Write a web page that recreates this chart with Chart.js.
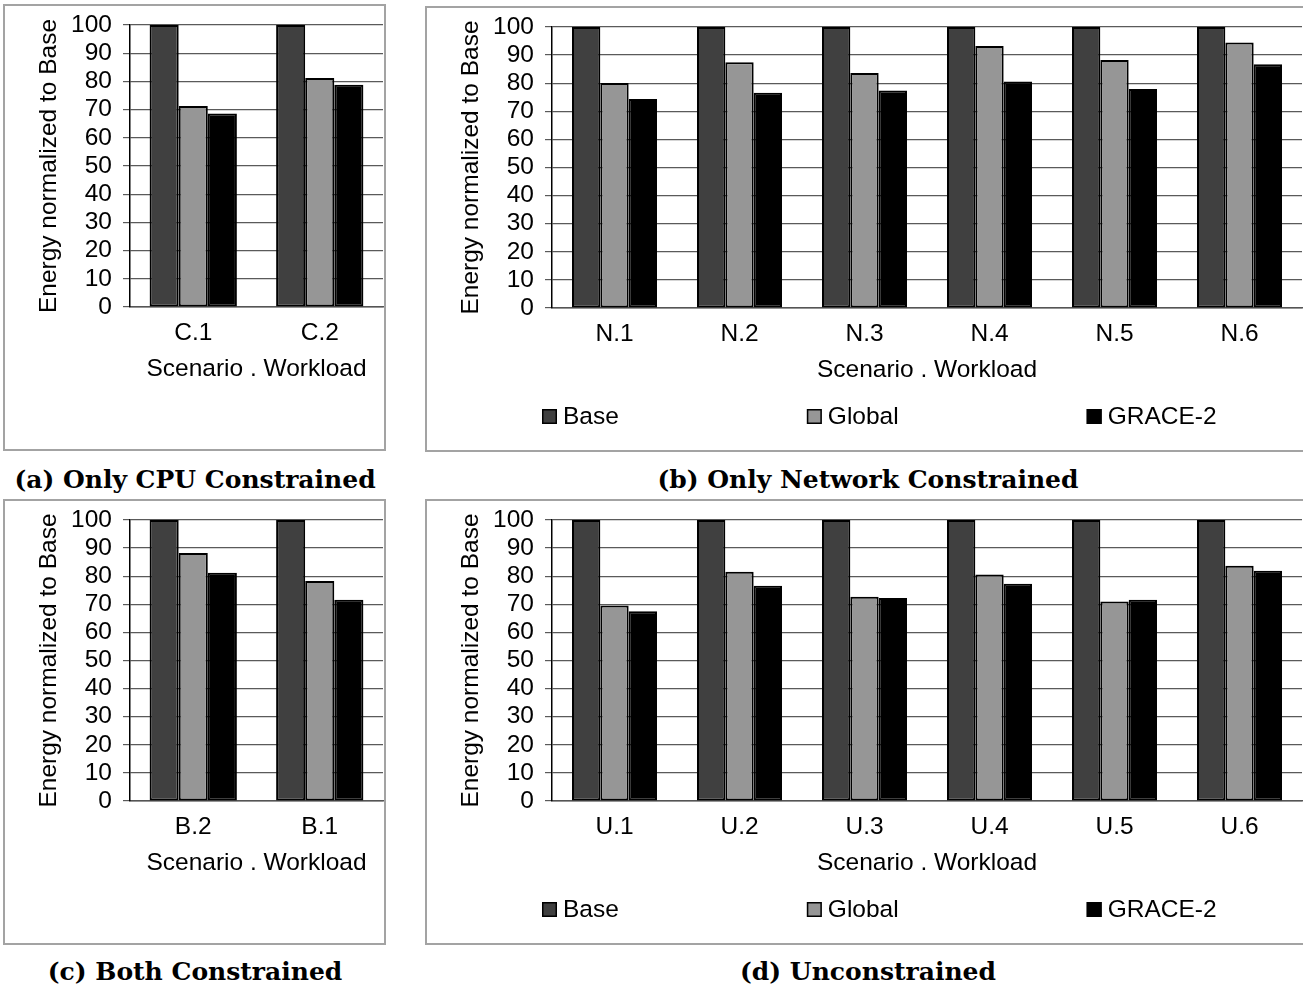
<!DOCTYPE html>
<html>
<head>
<meta charset="utf-8">
<script src="https://cdn.jsdelivr.net/npm/chart.js@4.4.1/dist/chart.umd.min.js"></script>
<style>
  body { margin: 0; background: #fff; width: 1303px; height: 988px; overflow: hidden; position: relative; }
  .box { position: absolute; border: 2px solid #a3a3a3; box-sizing: border-box; }
  .box canvas { position: absolute; left: 0; top: 0; }
  .cap { position: absolute; font: bold 25px "DejaVu Serif", serif; color: #000; text-align: center; white-space: nowrap; }
</style>
</head>
<body>
<div class="box" style="left:3px;top:4px;width:383px;height:447px"><canvas id="chartA" width="379" height="443"></canvas></div>
<div class="box" style="left:425px;top:6px;width:880px;height:446px"><canvas id="chartB" width="876" height="442"></canvas></div>
<div class="box" style="left:3px;top:499px;width:383px;height:446px"><canvas id="chartC" width="379" height="442"></canvas></div>
<div class="box" style="left:425px;top:499px;width:880px;height:446px"><canvas id="chartD" width="876" height="442"></canvas></div>

<div class="cap" style="left:0;width:390px;top:465px">(a) Only CPU Constrained</div>
<div class="cap" style="left:420px;width:896px;top:465px">(b) Only Network Constrained</div>
<div class="cap" style="left:0;width:390px;top:957px">(c) Both Constrained</div>
<div class="cap" style="left:420px;width:896px;top:957px">(d) Unconstrained</div>

<script>
const seriesNames = ["Base", "Global", "GRACE-2"];
const seriesColors = ["#404040", "#969696", "#000000"];

const yMin = 0;
const yMax = 100;
const yStep = 10;

// (a) only CPU constrained
const cpuLabels = ["C.1", "C.2"];
const cpuBase = [100, 100];
const cpuGlobal = [71.3, 81.2];
const cpuGrace = [68.6, 78.8];

// (b) only network constrained
const netLabels = ["N.1", "N.2", "N.3", "N.4", "N.5", "N.6"];
const netBase = [100, 100, 100, 100, 100, 100];
const netGlobal = [80.1, 87.5, 83.6, 93.2, 88.3, 94.5];
const netGrace = [74.4, 76.6, 77.4, 80.6, 77.9, 86.7];

// (c) both constrained
const bothLabels = ["B.2", "B.1"];
const bothBase = [100, 100];
const bothGlobal = [88.3, 78.3];
const bothGrace = [81.2, 71.6];

// (d) unconstrained
const unconLabels = ["U.1", "U.2", "U.3", "U.4", "U.5", "U.6"];
const unconBase = [100, 100, 100, 100, 100, 100];
const unconGlobal = [69.6, 81.6, 72.7, 80.6, 71.0, 83.7];
const unconGrace = [67.5, 76.6, 72.2, 77.3, 71.6, 81.9];

const FONT = { family: "'Liberation Sans', Arial, sans-serif", size: 24.5 };

// legend spread in one row under the axis title, like the spreadsheet one
const rowLegend = {
  id: "rowLegend",
  afterDraw(chart, args, opts) {
    if (!opts.show) return;
    const ctx = chart.ctx;
    const area = chart.chartArea;
    const y = area.bottom + 108.5;
    let x = area.left - 10;
    ctx.save();
    ctx.font = FONT.size + "px " + FONT.family;
    ctx.textBaseline = "middle";
    ctx.textAlign = "left";
    chart.data.datasets.forEach(function (ds) {
      ctx.fillStyle = ds.backgroundColor;
      ctx.fillRect(x, y - 7.5, 15, 15);
      ctx.strokeStyle = "#000";
      ctx.lineWidth = 1.5;
      ctx.strokeRect(x + 0.75, y - 6.75, 13.5, 13.5);
      ctx.fillStyle = "#000";
      ctx.fillText(ds.label, x + 21, y + 1);
      x += 21 + ctx.measureText(ds.label).width + 188;
    });
    ctx.restore();
  },
};

function makeChart(id, labels, values, catPct, withLegend) {
  new Chart(document.getElementById(id), {
    type: "bar",
    data: {
      labels: labels,
      datasets: values.map(function (v, i) {
        return {
          label: seriesNames[i],
          data: v,
          backgroundColor: seriesColors[i],
          borderColor: "#000",
          borderWidth: 2,
          borderSkipped: false,
          categoryPercentage: catPct,
          barPercentage: 1.0,
        };
      }),
    },
    options: {
      responsive: false,
      animation: false,
      events: [],
      layout: { padding: { top: 19, right: 1, left: 0, bottom: 0 } },
      scales: {
        x: {
          grid: { display: false, drawTicks: false },
          border: { display: true, color: "#555", width: 1.5 },
          ticks: { color: "#000", font: FONT, padding: 12, maxRotation: 0 },
          title: {
            display: true,
            text: "Scenario . Workload",
            color: "#000",
            font: FONT,
            padding: { top: 0, bottom: 65 },
          },
          afterFit: function (scale) {
            scale.height = 142;
            scale.paddingLeft = 0;
            scale.paddingRight = 0;
          },
        },
        y: {
          min: yMin,
          max: yMax,
          grid: { color: "#5a5a5a", lineWidth: 1.2, tickLength: 7 },
          border: { display: true, color: "#000", width: 1.5 },
          ticks: { stepSize: yStep, autoSkip: false, color: "#000", font: FONT, padding: 11 },
          title: {
            display: true,
            text: "Energy normalized to Base",
            color: "#000",
            font: FONT,
            padding: { top: 30, bottom: 0 },
          },
          afterFit: function (scale) {
            scale.width = 125;
            scale.paddingTop = 0;
            scale.paddingBottom = 0;
          },
        },
      },
      plugins: {
        legend: { display: false },
        tooltip: { enabled: false },
        rowLegend: { show: withLegend },
      },
    },
    plugins: [rowLegend],
  });
}

document.addEventListener("DOMContentLoaded", function () {
  makeChart("chartA", cpuLabels, [cpuBase, cpuGlobal, cpuGrace], 0.69, false);
  makeChart("chartB", netLabels, [netBase, netGlobal, netGrace], 0.68, true);
  makeChart("chartC", bothLabels, [bothBase, bothGlobal, bothGrace], 0.69, false);
  makeChart("chartD", unconLabels, [unconBase, unconGlobal, unconGrace], 0.68, true);
});
</script>
</body>
</html>
